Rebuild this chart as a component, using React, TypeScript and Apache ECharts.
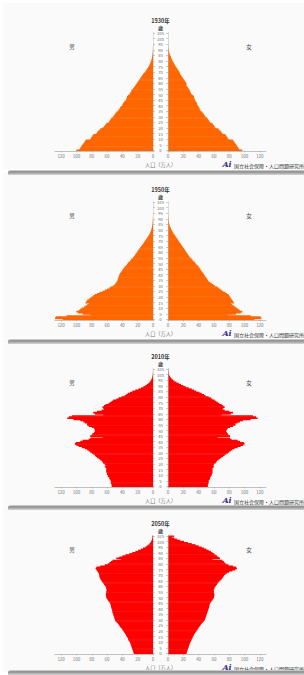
import React, { useEffect, useRef } from "react";
import * as echarts from "echarts";

const AGES: string[] = Array.from({ length: 106 }, (_, i) => String(i));
const YEARS = ["1930年", "1950年", "2010年", "2050年"];
const X_TITLE = "人口（万人）";
const AGE_UNIT = "歳";
const MALE = "男";
const FEMALE = "女";
const SOURCE = "国立社会保障・人口問題研究所";

const M1930 = [
  100, 96, 95, 94, 93, 92, 91, 90, 89, 88,
  82, 81, 80, 79, 78, 74, 73, 72, 70, 69,
  66, 64, 63, 62, 61, 58, 57, 56, 55, 54,
  52, 51, 50, 49, 48, 46, 45, 44, 43, 42,
  40, 40, 39, 38, 37, 35, 35, 34, 34, 33,
  31, 30, 29, 28, 28, 26, 25, 24, 23, 22,
  21, 20, 19, 18, 17, 16, 15, 14, 13, 12,
  10, 9.5, 8.5, 7.5, 6.5, 5.5, 4.8, 4.2, 3.5, 3,
  2.4, 2, 1.6, 1.3, 1, 0.8, 0.6, 0.4, 0.3, 0.2,
  0.15, 0.1, 0.07, 0.05, 0.03, 0.02, 0, 0, 0, 0,
  0, 0, 0, 0, 0, 0,
];
const F1930 = [
  97, 93, 92, 91, 90, 89, 88, 87, 86, 85,
  79, 78, 77, 76, 75, 71, 70, 69, 67, 66,
  62, 61, 60, 59, 58, 55, 54, 53, 52, 51,
  49, 48, 47, 46, 45, 43, 42, 41, 41, 40,
  39, 38, 38, 37, 36, 35, 35, 34, 34, 33,
  31, 30, 29, 29, 28, 27, 26, 25, 24, 24,
  24, 23, 22, 21, 20, 19, 18, 17, 16, 15.5,
  15, 14, 13, 12, 11, 10, 9.2, 8.3, 7.5, 6.8,
  6, 5.2, 4.5, 4, 3.5, 2.8, 2.2, 1.8, 1.3, 1,
  0.7, 0.5, 0.35, 0.25, 0.15, 0.1, 0.06, 0.04, 0.02, 0,
  0, 0, 0, 0, 0, 0,
];
const M1950 = [
  118, 128, 127, 113, 82, 92, 98, 100, 97, 95,
  93, 90, 88, 86, 84, 88, 87, 86, 84, 82,
  80, 78, 76, 73, 70, 66, 63, 60, 57, 55,
  52, 50, 49, 48, 47, 46, 46, 45, 45, 44,
  44, 43, 42, 41, 40, 39, 38, 37, 35, 34,
  33, 32, 30, 29, 28, 26, 25, 24, 23, 22,
  21, 20, 19, 18, 17, 15.5, 14.5, 13.5, 12.5, 11.5,
  10.5, 9.5, 8.5, 7.5, 6.5, 5.5, 4.7, 4, 3.4, 2.8,
  2.3, 1.9, 1.5, 1.2, 0.9, 0.7, 0.5, 0.4, 0.3, 0.2,
  0.14, 0.1, 0.07, 0.05, 0.03, 0.02, 0, 0, 0, 0,
  0, 0, 0, 0, 0, 0,
];
const F1950 = [
  113, 122, 121, 108, 79, 89, 95, 97, 94, 92,
  90, 88, 86, 84, 82, 86, 85, 84, 83, 82,
  81, 80, 79, 77, 75, 72, 70, 68, 66, 64,
  61, 59, 57, 55, 53, 52, 51, 50, 49, 48,
  47, 46, 45, 44, 43, 42, 41, 40, 39, 37,
  36, 35, 33, 32, 31, 29, 28, 27, 26, 25,
  24, 23, 22, 21, 20, 19, 18, 17, 16, 15,
  14, 13, 12, 11, 10, 9, 8, 7, 6.2, 5.4,
  4.6, 3.9, 3.3, 2.7, 2.2, 1.8, 1.4, 1.1, 0.8, 0.6,
  0.45, 0.32, 0.22, 0.15, 0.1, 0.06, 0.04, 0.02, 0, 0,
  0, 0, 0, 0, 0, 0,
];
const M2010 = [
  54, 54, 54, 55, 55, 55, 56, 57, 57, 59,
  59, 60, 60, 61, 61, 61, 61, 62, 63, 61,
  63, 65, 66, 67, 69, 71, 73, 75, 76, 78,
  80, 82, 84, 86, 89, 93, 97, 100, 102, 101,
  95, 92, 84, 82, 66, 82, 80, 79, 77, 76,
  76, 76, 77, 80, 84, 86, 86, 89, 91, 95,
  104, 112, 110, 106, 65, 76, 78, 73, 67, 64,
  65, 66, 64, 62, 58, 56, 54, 52, 48, 45,
  41, 37, 35, 33, 30, 27, 23, 19, 15.5, 12.5,
  10, 8, 6, 4.5, 3.4, 2.5, 1.8, 1.1, 0.75, 0.5,
  0.3, 0.2, 0.12, 0.07, 0.04, 0.05,
];
const F2010 = [
  52, 52, 52, 53, 53, 53, 54, 55, 55, 56,
  57, 57, 58, 58, 58, 58, 58, 59, 60, 59,
  60, 62, 63, 64, 66, 68, 70, 72, 74, 76,
  78, 80, 82, 84, 87, 91, 95, 98, 100, 99,
  94, 91, 83, 81, 65, 81, 79, 78, 77, 76,
  76, 77, 78, 81, 85, 88, 88, 91, 94, 98,
  108, 117, 115, 111, 70, 82, 85, 80, 74, 71,
  72, 74, 72, 70, 67, 65, 63, 61, 58, 56,
  53, 49, 47, 44, 41, 37, 34, 31, 27, 23,
  20, 17, 14, 11, 8.5, 6.5, 5, 3.7, 2.7, 1.9,
  1.3, 0.9, 0.6, 0.4, 0.25, 0.35,
];
const M2050 = [
  25, 25.5, 26, 26.5, 27, 27.5, 28, 28.5, 29, 29.5,
  30, 31, 32, 32.5, 33, 34, 35, 35.5, 36.5, 37.5,
  38.5, 39.5, 40.5, 41.5, 43, 44, 45, 46, 47.5, 49,
  49.5, 50, 50.5, 51, 51.5, 52, 52.5, 53, 53, 53.5,
  54, 54.5, 55, 55, 55.5, 56, 57, 58, 59, 60,
  61, 61, 61.5, 61.5, 61, 61, 60.5, 60.5, 61, 61.5,
  62, 63, 64, 65, 66, 67, 68, 69, 69.5, 70,
  70, 70.5, 71, 72, 73, 74, 75, 74, 69, 63,
  59, 57, 55, 53, 42, 48, 44, 40, 36, 31,
  27, 23, 19.5, 16, 13, 10, 8, 6, 4.5, 3.3,
  2.4, 1.7, 1.2, 0.8, 0.5, 0.7,
];
const F2050 = [
  24, 24.5, 25, 25.5, 26, 26.5, 27, 27.5, 28, 28.5,
  29, 30, 30.5, 31, 32, 32.5, 33.5, 34, 35, 36,
  37, 38, 39, 40, 41, 42, 43, 44, 45.5, 47,
  48, 48.5, 49, 49.5, 50, 50.5, 51, 51.5, 52, 52.5,
  53, 53.5, 54, 54, 54.5, 55, 56, 57, 58, 59,
  60, 60, 60.5, 60.5, 60, 60, 59.5, 60, 60.5, 61,
  62, 63, 64, 65, 66, 67.5, 69, 70.5, 71.5, 72.5,
  73.5, 75, 77, 80, 84, 88, 90, 89, 85, 79,
  76, 74, 73, 71, 58, 68, 66, 64, 62, 60,
  58, 56, 53, 50, 47, 44, 40, 36, 31, 26,
  21, 16, 12, 8, 5, 8,
];

const MALE_DATA = [M1930, M1950, M2010, M2050];
const FEMALE_DATA = [F1930, F1950, F2010, F2050];

// layout / style
const PANEL_TOP = [0, 169, 336, 503];
const SEPARATORS = [170, 339, 505, 670];
const BAR_COLORS = ["#ff6600", "#ff6600", "#ff0000", "#ff0000"];
const FONT = "'Noto Sans CJK JP', 'Noto Sans', sans-serif";

export default function App() {
  const ref = useRef<HTMLDivElement>(null);
  useEffect(() => {
    if (!ref.current) return;
    const chart = echarts.init(ref.current, null, { renderer: "svg", width: 304, height: 675 });
    const grids: any[] = [];
    const xAxes: any[] = [];
    const yAxes: any[] = [];
    const series: any[] = [];
    const graphics: any[] = [];

    const axisGrey = "#9a9a9a";
    PANEL_TOP.forEach((O, k) => {
      const top = O + 32.5;
      const h = 118.5;
      grids.push({ left: 55, top, width: 98, height: h });
      grids.push({ left: 168, top, width: 98, height: h });
      const xa = (inverse: boolean, gi: number) => ({
        gridIndex: gi,
        type: "value",
        inverse,
        min: 0,
        max: 128,
        interval: 20,
        z: 6,
        axisLine: { show: true, lineStyle: { color: axisGrey, width: 0.6 } },
        axisTick: { show: true, length: 1.5, lineStyle: { color: axisGrey, width: 0.5 } },
        axisLabel: {
          fontSize: 4.5,
          color: "#777",
          margin: 2.5,
          fontFamily: FONT,
          showMaxLabel: false,
          formatter: (v: number) => (v % 20 === 0 ? String(v) : ""),
        },
        splitLine: { show: false },
      });
      xAxes.push(xa(true, 2 * k));
      xAxes.push(xa(false, 2 * k + 1));
      yAxes.push({
        gridIndex: 2 * k,
        type: "category",
        data: AGES,
        position: "right",
        z: 6,
        axisLine: { show: true, lineStyle: { color: "#bbb", width: 0.5 } },
        axisTick: { show: true, alignWithLabel: true, interval: 4, length: 2, lineStyle: { color: "#999", width: 0.5 } },
        axisLabel: { show: true, interval: 4, fontSize: 4.2, color: "#666", align: "center", margin: 7.5, fontFamily: FONT, hideOverlap: false },
      });
      yAxes.push({
        gridIndex: 2 * k + 1,
        type: "category",
        data: AGES,
        position: "left",
        z: 6,
        axisLine: { show: true, lineStyle: { color: "#bbb", width: 0.5 } },
        axisTick: { show: true, alignWithLabel: true, interval: 4, length: 2, lineStyle: { color: "#999", width: 0.5 } },
        axisLabel: { show: false },
      });
      const col = BAR_COLORS[k];
      series.push({
        type: "bar",
        xAxisIndex: 2 * k,
        yAxisIndex: 2 * k,
        data: MALE_DATA[k],
        barWidth: 1.7,
        silent: true,
        z: 3,
        itemStyle: { color: col },
      });
      series.push({
        type: "bar",
        xAxisIndex: 2 * k + 1,
        yAxisIndex: 2 * k + 1,
        data: FEMALE_DATA[k],
        barWidth: 1.7,
        silent: true,
        z: 3,
        itemStyle: { color: col },
      });

      // panel background
      graphics.push({
        type: "rect",
        z: -10,
        silent: true,
        shape: { x: 3, y: O + 3, width: 301, height: 166 },
        style: { fill: "#fafafa" },
      });
      graphics.push({
        type: "rect",
        z: -9,
        silent: true,
        shape: { x: 153, y: O + 30, width: 15, height: 121 },
        style: { fill: "#ffffff" },
      });
      const txt = (text: string, x: number, y: number, size: number, fill: string, weight = "normal", align = "center") => ({
        type: "text",
        z: 10,
        silent: true,
        x,
        y,
        style: { text, fontSize: size, fill, fontWeight: weight, fontFamily: FONT, align, verticalAlign: "middle" },
      });
      graphics.push(txt(YEARS[k], 160.5, O + 21, 5.5, "#333", "bold"));
      graphics.push(txt(AGE_UNIT, 160.5, O + 27.5, 5, "#444", "bold"));
      graphics.push(txt(MALE, 72, O + 47, 5.5, "#444"));
      graphics.push(txt(FEMALE, 249, O + 47, 5.5, "#444"));
      graphics.push(txt(X_TITLE, 160.5, O + 164.5, 5.2, "#777"));
      graphics.push({
        type: "text",
        z: 10,
        silent: true,
        x: 227,
        y: O + 164,
        style: { text: "Ai", fontSize: 8, fill: "#3b2c8c", fontWeight: "bold", fontStyle: "italic", fontFamily: "'DejaVu Serif', serif", align: "center", verticalAlign: "middle" },
      });
      graphics.push(txt(SOURCE, 234, O + 165, 5, "#333", "normal", "left"));
    });

    SEPARATORS.forEach((y) => {
      graphics.push({
        type: "rect",
        z: 20,
        silent: true,
        shape: { x: 8, y, width: 296, height: 5, r: [3, 0, 0, 0] },
        style: {
          fill: new echarts.graphic.LinearGradient(0, 0, 0, 1, [
            { offset: 0, color: "#e0e0e0" },
            { offset: 0.35, color: "#8a8a8a" },
            { offset: 1, color: "#d8d8d8" },
          ]),
        },
      });
    });

    chart.setOption({
      animation: false,
      backgroundColor: "#ffffff",
      grid: grids,
      xAxis: xAxes,
      yAxis: yAxes,
      series,
      graphic: { elements: graphics },
    });
    return () => chart.dispose();
  }, []);
  return <div ref={ref} style={{ position: "absolute", left: 0, top: 0, width: 304, height: 675 }} />;
}
